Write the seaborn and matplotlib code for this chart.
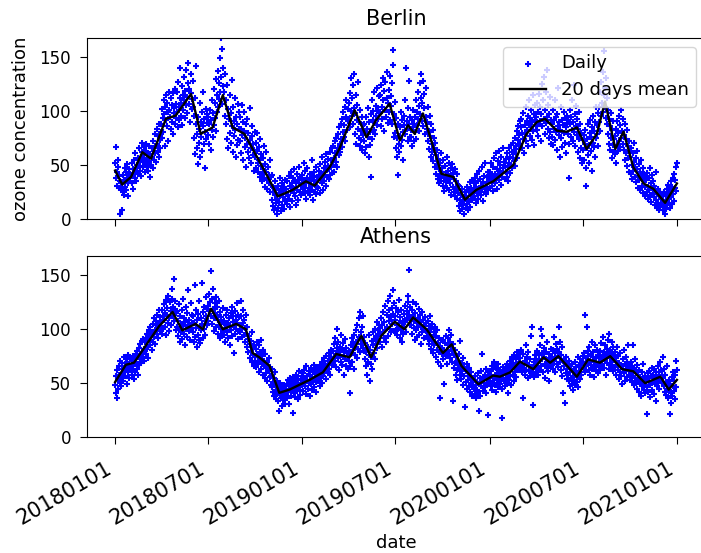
import matplotlib
matplotlib.use("Agg")
import matplotlib.pyplot as plt
import matplotlib.dates as mdates
import pandas as pd
import seaborn as sns

# ---------------- data ----------------
start_date = "2018-01-01"
end_date = "2020-12-31"

# daily ozone values, one row per month (Jan 2018 ... Dec 2020)
berlin_daily_by_month = [
    [52, 38, 67, 44, 31, 48, 55, 29, 40, 35, 5, 33, 28, 8, 30, 25, 41, 22, 36, 47, 30, 27, 44, 38, 51, 33, 21, 46, 39, 42, 35],
    [40, 52, 33, 46, 28, 55, 43, 38, 61, 47, 35, 50, 44, 57, 42, 49, 66, 45, 53, 58, 40, 71, 62, 55, 48, 67, 59, 44],
    [52, 63, 70, 48, 57, 61, 45, 68, 54, 39, 60, 50, 66, 58, 72, 47, 63, 55, 79, 61, 68, 53, 84, 70, 62, 77, 58, 88, 73, 66, 81],
    [88, 75, 102, 94, 81, 110, 97, 68, 104, 115, 92, 86, 108, 99, 72, 118, 101, 95, 84, 112, 106, 90, 79, 117, 98, 103, 88, 121, 94, 107],
    [99, 118, 85, 127, 104, 92, 112, 140, 96, 108, 123, 87, 115, 101, 132, 110, 94, 119, 106, 138, 113, 98, 126, 145, 107, 121, 90, 117, 135, 111, 102],
    [104, 128, 96, 75, 112, 60, 88, 142, 79, 66, 95, 51, 84, 71, 108, 58, 90, 76, 99, 63, 86, 118, 70, 93, 81, 47, 102, 74, 89, 97],
    [78, 95, 70, 88, 101, 64, 92, 83, 110, 76, 98, 87, 121, 94, 108, 82, 130, 99, 115, 137, 104, 126, 111, 149, 118, 168, 132, 107, 158, 123, 140],
    [170, 118, 96, 135, 88, 110, 74, 124, 102, 66, 93, 115, 80, 98, 71, 129, 86, 62, 104, 91, 77, 112, 83, 58, 95, 69, 88, 107, 73, 84, 99],
    [72, 95, 84, 61, 106, 78, 90, 55, 82, 99, 67, 75, 48, 88, 70, 93, 62, 80, 57, 73, 103, 66, 52, 77, 86, 59, 70, 45, 64, 81],
    [58, 71, 47, 63, 80, 52, 44, 67, 55, 39, 74, 49, 60, 42, 35, 57, 46, 68, 38, 51, 30, 44, 62, 36, 28, 48, 41, 33, 55, 25, 39],
    [32, 18, 41, 25, 12, 29, 8, 22, 35, 15, 27, 5, 19, 31, 10, 24, 16, 38, 21, 7, 28, 13, 33, 20, 26, 9, 30, 17, 36, 23],
    [28, 14, 35, 22, 40, 19, 31, 11, 26, 44, 33, 17, 29, 38, 24, 46, 21, 35, 13, 30, 42, 27, 36, 18, 33, 48, 25, 39, 31, 22, 37],
    [41, 28, 36, 52, 30, 24, 45, 33, 19, 38, 47, 26, 34, 29, 42, 22, 37, 31, 55, 27, 40, 18, 35, 44, 25, 32, 48, 23, 39, 30, 36],
    [29, 45, 38, 24, 51, 36, 42, 33, 58, 40, 27, 47, 35, 53, 44, 31, 60, 39, 49, 56, 37, 46, 62, 41, 55, 48, 66, 43],
    [50, 68, 57, 44, 72, 61, 53, 75, 63, 48, 79, 66, 59, 85, 70, 62, 88, 74, 93, 67, 81, 99, 76, 87, 104, 72, 95, 110, 83, 91, 102],
    [92, 108, 85, 117, 100, 131, 96, 112, 88, 124, 103, 135, 79, 98, 115, 70, 92, 106, 84, 127, 75, 90, 68, 101, 82, 73, 95, 64, 87, 78],
    [72, 88, 61, 80, 95, 67, 84, 76, 103, 58, 90, 81, 69, 97, 39, 110, 74, 92, 100, 83, 118, 89, 79, 105, 96, 122, 87, 101, 93, 114, 99],
    [98, 115, 86, 124, 104, 93, 131, 110, 82, 119, 101, 127, 95, 112, 136, 89, 108, 120, 99, 133, 92, 114, 105, 88, 126, 157, 143, 97, 76, 109],
    [80, 66, 94, 58, 75, 88, 41, 70, 62, 85, 77, 99, 68, 92, 73, 81, 55, 96, 87, 110, 79, 140, 91, 84, 72, 103, 88, 128, 76, 95, 83],
    [76, 92, 68, 85, 101, 72, 88, 95, 81, 110, 74, 99, 87, 118, 93, 105, 82, 126, 97, 112, 135, 91, 108, 128, 86, 116, 103, 79, 122, 95, 84],
    [90, 72, 104, 81, 65, 96, 77, 58, 88, 70, 62, 83, 54, 75, 66, 48, 71, 59, 42, 64, 51, 37, 56, 46, 33, 52, 40, 61, 35, 47],
    [44, 31, 55, 38, 26, 49, 41, 34, 58, 29, 45, 36, 52, 27, 40, 33, 47, 22, 39, 51, 30, 43, 25, 37, 46, 21, 35, 28, 42, 19, 32],
    [24, 12, 31, 18, 7, 22, 15, 28, 9, 20, 13, 5, 17, 25, 10, 21, 14, 30, 8, 19, 27, 16, 34, 11, 23, 29, 18, 36, 20, 26],
    [33, 21, 38, 27, 15, 30, 42, 24, 35, 19, 29, 45, 26, 37, 22, 31, 48, 28, 17, 34, 40, 25, 52, 30, 23, 39, 33, 44, 27, 36, 41],
    [29, 44, 37, 52, 31, 40, 26, 48, 35, 57, 42, 33, 61, 38, 46, 28, 54, 41, 36, 63, 45, 50, 32, 58, 43, 39, 66, 47, 53, 37, 49],
    [44, 56, 39, 61, 48, 35, 66, 52, 58, 43, 69, 50, 62, 47, 57, 71, 54, 64, 49, 75, 60, 68, 82, 57, 73, 86, 65, 78, 91],
    [70, 85, 93, 66, 80, 74, 98, 61, 87, 79, 104, 72, 91, 83, 68, 96, 88, 110, 77, 94, 85, 101, 73, 90, 115, 82, 97, 69, 92, 106, 86],
    [95, 83, 108, 77, 99, 88, 116, 91, 104, 72, 97, 125, 86, 110, 93, 132, 79, 101, 89, 118, 95, 138, 84, 106, 75, 97, 113, 81, 92, 70],
    [88, 76, 101, 69, 92, 84, 110, 73, 95, 81, 64, 97, 86, 122, 78, 90, 58, 83, 104, 75, 92, 67, 87, 99, 80, 71, 94, 85, 61, 89, 96],
    [79, 92, 70, 38, 88, 101, 76, 95, 83, 110, 72, 90, 124, 81, 97, 68, 86, 105, 78, 93, 62, 84, 99, 74, 57, 88, 66, 80, 52, 73],
    [64, 78, 55, 70, 83, 47, 31, 66, 74, 59, 88, 69, 52, 80, 92, 63, 76, 45, 85, 71, 96, 67, 82, 58, 90, 75, 104, 79, 87, 68, 98],
    [90, 104, 82, 118, 96, 127, 108, 136, 99, 115, 156, 122, 104, 131, 94, 112, 88, 101, 79, 93, 70, 86, 64, 98, 75, 57, 83, 69, 91, 62, 74],
    [60, 77, 52, 84, 69, 91, 63, 80, 72, 96, 67, 87, 75, 101, 82, 70, 93, 78, 64, 88, 55, 74, 61, 83, 49, 68, 57, 72, 44, 63],
    [58, 42, 66, 50, 37, 61, 45, 53, 71, 39, 48, 57, 34, 46, 63, 40, 29, 51, 36, 44, 27, 55, 38, 31, 47, 24, 35, 42, 30, 21, 39],
    [36, 25, 43, 30, 19, 38, 27, 47, 22, 33, 16, 29, 41, 24, 35, 20, 31, 13, 27, 44, 18, 23, 10, 28, 15, 21, 8, 25, 12, 19],
    [14, 21, 8, 18, 25, 11, 5, 16, 22, 9, 28, 13, 19, 32, 15, 24, 10, 27, 35, 20, 14, 30, 38, 23, 17, 42, 29, 36, 48, 26, 52],
]

athens_daily_by_month = [
    [48, 57, 41, 36, 62, 53, 45, 66, 58, 50, 71, 55, 47, 63, 69, 59, 52, 74, 61, 66, 57, 72, 64, 49, 70, 76, 60, 67, 55, 73, 65],
    [62, 71, 58, 75, 66, 54, 73, 68, 60, 77, 70, 63, 80, 58, 74, 83, 67, 72, 86, 76, 69, 89, 79, 74, 91, 82, 71, 88],
    [80, 92, 77, 88, 96, 84, 73, 99, 90, 85, 102, 94, 81, 97, 105, 88, 93, 110, 99, 86, 104, 108, 96, 113, 101, 92, 118, 106, 98, 111, 103],
    [107, 96, 118, 112, 100, 123, 109, 115, 102, 127, 95, 113, 120, 106, 131, 110, 98, 125, 117, 104, 128, 137, 112, 121, 147, 108, 119, 126, 99, 115],
    [102, 117, 94, 108, 123, 99, 88, 112, 97, 105, 118, 91, 103, 128, 96, 110, 85, 107, 121, 100, 93, 115, 104, 136, 98, 109, 90, 124, 101, 113, 106],
    [97, 112, 88, 106, 141, 93, 101, 118, 84, 109, 95, 114, 90, 126, 103, 87, 110, 99, 143, 105, 92, 116, 100, 121, 108, 95, 130, 112, 119, 104],
    [122, 108, 133, 117, 125, 112, 154, 128, 105, 119, 137, 110, 98, 124, 115, 130, 102, 113, 121, 96, 109, 126, 104, 92, 116, 100, 111, 94, 107, 120, 97],
    [95, 108, 101, 88, 113, 104, 97, 118, 92, 106, 110, 85, 102, 115, 99, 121, 94, 107, 112, 78, 103, 117, 96, 109, 100, 124, 106, 91, 113, 98, 111],
    [104, 97, 112, 126, 100, 93, 118, 106, 95, 109, 101, 88, 113, 96, 84, 102, 91, 79, 94, 86, 73, 89, 80, 97, 70, 83, 76, 66, 85, 74],
    [71, 82, 65, 77, 88, 69, 74, 60, 85, 72, 79, 63, 90, 68, 75, 58, 81, 66, 71, 55, 77, 64, 59, 70, 52, 67, 61, 73, 56, 63, 48],
    [57, 46, 63, 51, 42, 55, 38, 49, 60, 44, 35, 52, 40, 47, 33, 45, 24, 39, 50, 36, 43, 29, 41, 46, 34, 48, 37, 42, 31, 45],
    [40, 49, 36, 53, 44, 31, 47, 55, 42, 38, 51, 45, 22, 56, 48, 41, 52, 37, 46, 58, 43, 50, 35, 54, 47, 61, 44, 39, 53, 49, 57],
    [48, 59, 43, 55, 62, 47, 51, 66, 40, 57, 53, 45, 61, 50, 38, 58, 64, 49, 55, 44, 60, 52, 67, 46, 56, 63, 51, 42, 59, 54, 65],
    [52, 63, 58, 47, 66, 55, 61, 70, 50, 64, 57, 73, 59, 68, 62, 54, 75, 65, 60, 71, 78, 63, 69, 58, 74, 81, 67, 72],
    [68, 80, 74, 86, 71, 92, 77, 65, 83, 100, 73, 88, 79, 62, 84, 76, 95, 70, 81, 67, 87, 74, 58, 79, 91, 72, 66, 83, 78, 63, 75],
    [71, 80, 66, 41, 85, 77, 92, 70, 88, 81, 63, 95, 84, 76, 99, 87, 73, 104, 90, 82, 110, 93, 79, 116, 97, 86, 102, 91, 112, 83],
    [80, 93, 72, 87, 66, 79, 58, 84, 70, 95, 76, 52, 81, 68, 74, 89, 63, 85, 97, 78, 91, 72, 100, 86, 94, 107, 83, 99, 90, 104, 96],
    [88, 101, 95, 110, 84, 104, 97, 116, 92, 107, 122, 99, 88, 113, 102, 126, 94, 108, 118, 100, 131, 111, 97, 120, 105, 136, 114, 98, 124, 109],
    [112, 98, 120, 104, 95, 116, 101, 127, 106, 92, 111, 99, 118, 103, 88, 108, 96, 114, 102, 122, 107, 97, 117, 110, 125, 131, 155, 113, 104, 121, 109],
    [104, 118, 96, 112, 125, 101, 108, 90, 115, 99, 123, 106, 93, 110, 102, 119, 95, 107, 113, 86, 104, 97, 116, 100, 109, 92, 103, 111, 98, 106, 94],
    [98, 108, 91, 103, 86, 112, 95, 82, 100, 89, 105, 93, 78, 97, 85, 102, 88, 74, 94, 81, 99, 87, 70, 92, 79, 36, 84, 66, 90, 77],
    [83, 72, 90, 49, 79, 87, 75, 94, 81, 68, 92, 85, 77, 99, 88, 73, 84, 95, 80, 70, 86, 33, 76, 64, 81, 69, 58, 74, 62, 53, 67],
    [71, 63, 77, 58, 89, 66, 54, 69, 61, 73, 48, 65, 57, 28, 62, 51, 68, 45, 59, 53, 64, 47, 56, 42, 60, 50, 38, 55, 46, 52],
    [45, 53, 40, 57, 48, 36, 51, 44, 59, 42, 49, 24, 55, 38, 47, 61, 52, 77, 43, 56, 50, 46, 58, 41, 63, 54, 49, 20, 57, 52, 60],
    [52, 61, 47, 58, 66, 44, 55, 63, 50, 70, 48, 57, 42, 64, 53, 59, 46, 68, 51, 56, 62, 49, 54, 60, 45, 18, 58, 65, 52, 47, 61],
    [55, 64, 50, 68, 41, 59, 62, 53, 71, 57, 66, 48, 63, 74, 58, 69, 52, 76, 65, 60, 72, 56, 79, 67, 62, 75, 70, 64, 78],
    [73, 66, 81, 60, 68, 36, 77, 64, 71, 58, 85, 62, 69, 74, 55, 79, 66, 61, 72, 57, 94, 65, 59, 102, 63, 30, 70, 56, 67, 76, 60],
    [72, 64, 80, 58, 69, 76, 62, 85, 71, 100, 66, 94, 78, 60, 74, 83, 68, 55, 79, 72, 64, 88, 70, 61, 77, 52, 73, 66, 82, 69],
    [74, 67, 81, 63, 93, 71, 78, 60, 86, 73, 68, 82, 75, 65, 102, 79, 70, 88, 62, 76, 57, 84, 41, 72, 66, 32, 69, 59, 74, 54, 63],
    [58, 66, 52, 71, 47, 60, 55, 63, 49, 68, 57, 44, 62, 53, 70, 48, 59, 65, 51, 56, 74, 46, 61, 67, 54, 72, 58, 63, 69, 75],
    [70, 64, 78, 60, 113, 73, 66, 102, 69, 80, 75, 62, 84, 71, 58, 77, 67, 88, 63, 74, 79, 56, 70, 85, 65, 73, 61, 81, 68, 76, 59],
    [66, 74, 80, 62, 71, 87, 68, 76, 93, 64, 79, 72, 85, 58, 75, 82, 69, 90, 77, 63, 96, 73, 81, 67, 78, 88, 70, 84, 61, 76, 74],
    [79, 65, 71, 58, 84, 67, 62, 75, 54, 69, 60, 78, 57, 66, 49, 72, 63, 81, 59, 68, 52, 74, 61, 56, 70, 64, 85, 58, 66, 53],
    [63, 57, 70, 52, 66, 85, 59, 48, 64, 55, 72, 50, 61, 45, 67, 53, 58, 42, 62, 49, 56, 38, 60, 47, 54, 68, 44, 51, 57, 41, 48],
    [53, 21, 46, 59, 42, 55, 61, 48, 37, 57, 50, 64, 44, 52, 58, 40, 63, 49, 55, 33, 60, 47, 54, 66, 51, 45, 58, 70, 53, 62],
    [61, 50, 74, 55, 47, 63, 42, 58, 51, 39, 45, 66, 48, 36, 53, 44, 21, 49, 32, 41, 56, 38, 47, 60, 43, 52, 35, 58, 71, 46, 62],
]

# 20 days mean
berlin_mean_dates = [
    "2018-01-01", "2018-01-15", "2018-02-01", "2018-02-23", "2018-03-12", "2018-04-10", "2018-04-29",
    "2018-05-29", "2018-06-17", "2018-07-10", "2018-07-30", "2018-08-18", "2018-09-10", "2018-10-03",
    "2018-10-29", "2018-11-14", "2018-12-13", "2019-01-08", "2019-01-25", "2019-02-23", "2019-03-14",
    "2019-04-13", "2019-05-06", "2019-05-25", "2019-06-20", "2019-07-10", "2019-07-26", "2019-08-08",
    "2019-08-24", "2019-09-13", "2019-09-29", "2019-10-22", "2019-11-14", "2019-12-06", "2020-01-08",
    "2020-01-21", "2020-02-16", "2020-03-13", "2020-04-02", "2020-04-18", "2020-05-11", "2020-05-30",
    "2020-06-19", "2020-07-08", "2020-07-28", "2020-08-13", "2020-09-02", "2020-09-18", "2020-10-07",
    "2020-10-27", "2020-11-15", "2020-12-08", "2020-12-31",
]
berlin_mean = [
    45, 32, 39, 62, 56, 93, 96,
    116, 79, 85, 115, 85, 79, 59,
    36, 21, 27, 35, 31, 48, 65,
    101, 76, 92, 107, 73, 87, 79,
    98, 67, 42, 39, 18, 27, 35,
    40, 50, 79, 90, 93, 82, 81,
    85, 65, 79, 109, 65, 81, 48,
    33, 28, 15, 33,
]

athens_mean_dates = [
    "2018-01-01", "2018-01-22", "2018-02-07", "2018-03-02", "2018-03-28", "2018-04-23", "2018-05-12",
    "2018-06-07", "2018-06-21", "2018-07-07", "2018-07-30", "2018-08-25", "2018-09-13", "2018-09-26",
    "2018-10-09", "2018-10-29", "2018-11-17", "2018-12-07", "2019-01-15", "2019-02-10", "2019-03-08",
    "2019-04-03", "2019-04-26", "2019-05-15", "2019-06-04", "2019-06-30", "2019-07-19", "2019-08-05",
    "2019-08-31", "2019-10-02", "2019-10-19", "2019-11-07", "2019-12-10", "2020-01-08", "2020-01-21",
    "2020-02-10", "2020-02-29", "2020-03-26", "2020-04-15", "2020-04-28", "2020-05-14", "2020-06-19",
    "2020-07-11", "2020-08-03", "2020-08-23", "2020-09-15", "2020-10-07", "2020-10-30", "2020-11-29",
    "2020-12-15", "2020-12-31",
]
athens_mean = [
    51, 67, 69, 85, 103, 116, 99,
    105, 100, 119, 100, 105, 100, 78,
    74, 66, 41, 44, 53, 60, 77,
    74, 94, 74, 94, 107, 100, 111,
    100, 78, 86, 66, 49, 57, 56,
    60, 70, 63, 74, 69, 75, 56,
    72, 69, 75, 63, 61, 50, 56,
    44, 53,
]

cities = ["Berlin", "Athens"]
tick_dates = ["2018-01-01", "2018-07-01", "2019-01-01", "2019-07-01",
              "2020-01-01", "2020-07-01", "2021-01-01"]

# ---------------- build ----------------
days = pd.date_range(start_date, end_date, freq="D")
months = pd.date_range(start_date, end_date, freq="MS")


def flatten(by_month, name):
    out = []
    for m, vals in zip(months, by_month):
        if len(vals) != m.days_in_month:
            raise ValueError(f"{name} {m:%Y-%m}: {len(vals)} != {m.days_in_month}")
        out.extend(vals)
    return out


berlin_daily = flatten(berlin_daily_by_month, "berlin")
athens_daily = flatten(athens_daily_by_month, "athens")

fig = plt.figure(figsize=(7.01, 5.53), dpi=100)
W, H = 701, 553
ax1 = fig.add_axes([87 / W, (H - 219) / H, 618 / W, 181 / H])
ax2 = fig.add_axes([87 / W, (H - 437) / H, 618 / W, 181 / H], sharex=ax1, sharey=ax1)

series = [
    (ax1, berlin_daily, berlin_mean_dates, berlin_mean),
    (ax2, athens_daily, athens_mean_dates, athens_mean),
]
for (ax, daily, mdts, mvals), city in zip(series, cities):
    sns.scatterplot(x=days, y=daily, ax=ax, marker="+", s=16, linewidth=1.5,
                    color="blue", label="Daily", zorder=2)
    sns.lineplot(x=pd.to_datetime(mdts), y=mvals, ax=ax, color="black",
                 linewidth=1.7, label="20 days mean", zorder=3)
    ax.set_title(city, fontsize=15, pad=9.5)
    ax.set_xlabel("")
    ax.set_ylabel("")
    ax.tick_params(axis="y", labelsize=12, length=5, pad=6.5)
    ax.tick_params(axis="x", length=5)

ax1.set_ylim(0, 168)
ax1.set_yticks([0, 50, 100, 150])
ax2.get_legend().remove()
ax1.legend(loc="upper right", fontsize=13)

ax2.set_xticks(pd.to_datetime(tick_dates))
ax2.xaxis.set_major_formatter(mdates.DateFormatter("%Y%m%d"))
ax1.tick_params(axis="x", labelbottom=False)
ax2.tick_params(axis="x", pad=10.5)
for lbl in ax2.get_xticklabels():
    lbl.set_rotation(30)
    lbl.set_ha("right")
    lbl.set_fontsize(15)

ax1.set_ylabel("ozone concentration", fontsize=13, labelpad=6.5)
ax2.set_xlabel("date", fontsize=13, labelpad=4)

fig.savefig("out.png", dpi=100)
